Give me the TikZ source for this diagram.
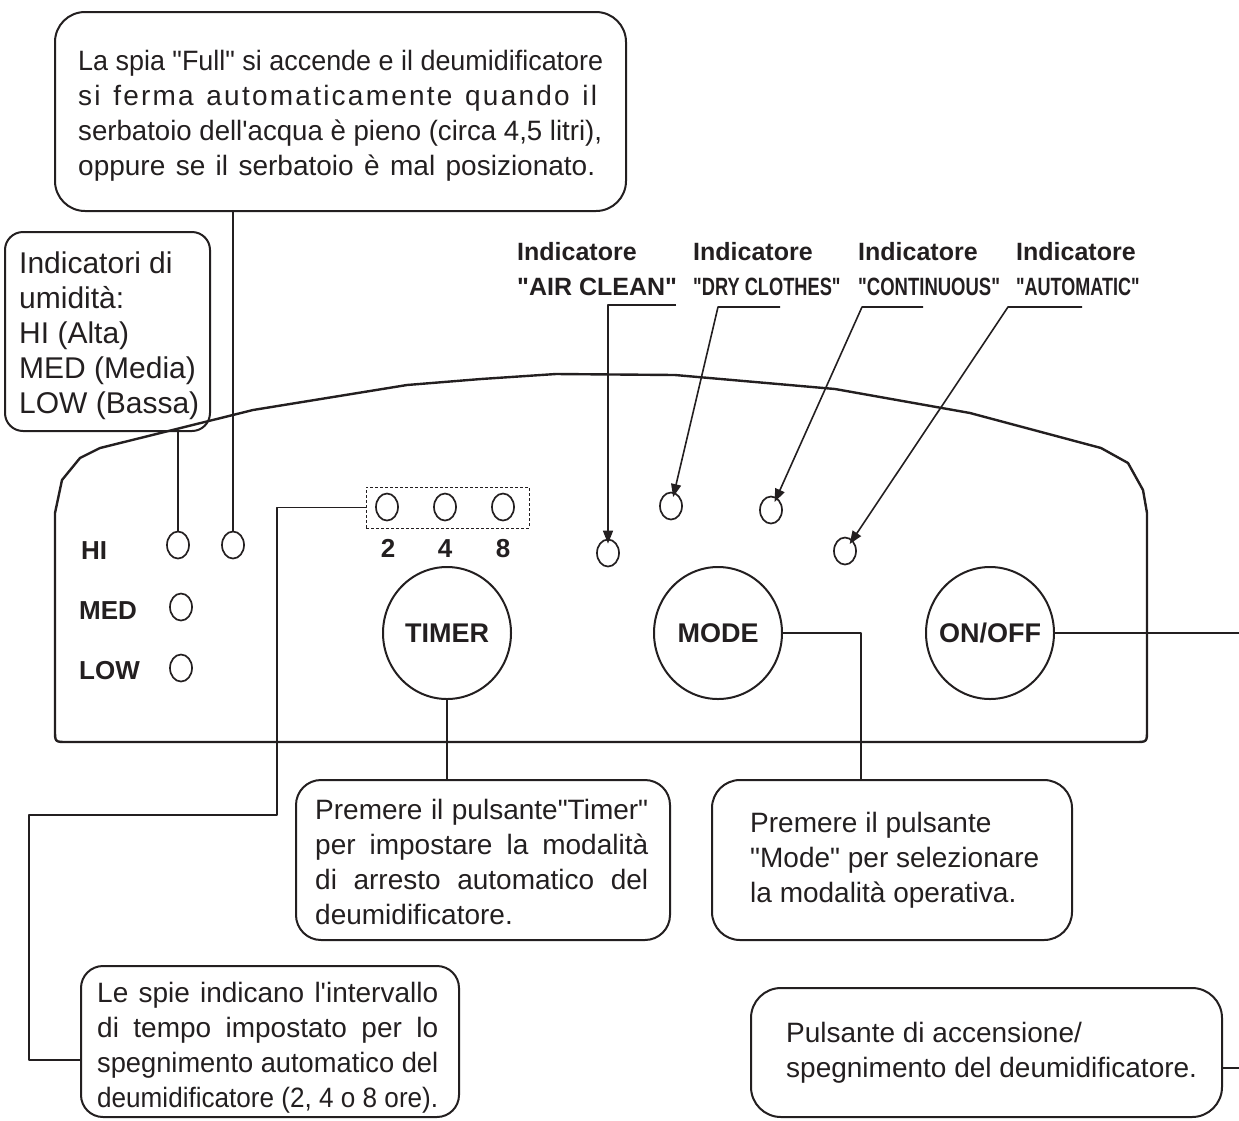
\documentclass[tikz,border=0pt]{standalone}
\usepackage{fontspec}
\newfontfamily\lib{Liberation Sans}
\newfontfamily\libspaced[LetterSpace=8]{Liberation Sans}
\usetikzlibrary{arrows.meta,shapes.geometric}
\definecolor{ink}{RGB}{35,31,32}
\newlength\jlen
\newcommand\jline[2]{\settowidth\jlen{#2}\ifdim\jlen>#1\relax\resizebox{#1}{\height}{#2}\else\makebox[#1][s]{#2}\fi}
\begin{document}
\begin{tikzpicture}[x=1pt,y=-1pt,line join=round,
  callout/.style={draw=ink,line width=2pt,rectangle,inner sep=0pt},
  txt/.style={font=\lib\fontsize{28}{35}\selectfont,text=ink,inner sep=0pt,align=left,anchor=west},
  led/.style={draw=ink,line width=1.7pt,ellipse,minimum width=22pt,minimum height=27pt,inner sep=0pt},
  btn/.style={draw=ink,line width=2pt,ellipse,minimum width=128pt,minimum height=132pt,inner sep=0pt,text=ink,font=\lib\bfseries\fontsize{27}{32}\selectfont},
  conn/.style={draw=ink,line width=1.6pt},
  arr/.style={conn,-{Triangle[length=13pt,width=10pt]},shorten >=-5pt},
  panel/.style={draw=ink,line width=2.4pt},
  boldlbl/.style={font=\lib\bfseries\fontsize{26}{30}\selectfont,text=ink,inner sep=0pt},
  ind/.style={font=\lib\bfseries\fontsize{25}{35}\selectfont,text=ink,inner sep=0pt,align=left,anchor=north west}]
\useasboundingbox (0,0) rectangle (1239,1120);

% panel outline
\draw[panel] (55,513) -- (62,480) -- (80,458) -- (100,448) -- (253,410) -- (407,385) -- (481,379) -- (556,374) -- (675,375) -- (835,389) -- (970,413) -- (1101,448) -- (1128,463) -- (1143,490) -- (1147,513) -- (1147,730) .. controls (1147,742) .. (1135,742) -- (67,742) .. controls (55,742) .. (55,730) -- cycle;

% callout boxes
\node[callout,rounded corners=30pt,minimum width=571pt,minimum height=199pt] (fullbox) at (340.5,111.5) {};
\node[callout,rounded corners=18pt,minimum width=205pt,minimum height=199pt] (humbox) at (107.5,331.5) {};
\node[callout,rounded corners=25pt,minimum width=374pt,minimum height=160pt] (timerbox) at (483,860) {};
\node[callout,rounded corners=28pt,minimum width=360pt,minimum height=160pt] (modebox) at (892,860) {};
\node[callout,rounded corners=22pt,minimum width=378pt,minimum height=151pt] (lespie) at (270,1041.5) {};
\node[callout,rounded corners=30pt,minimum width=471pt,minimum height=129pt] (pulsbox) at (986.5,1052.5) {};

% callout texts
\node[txt] (fulltxt) at (78,116) {\jline{525pt}{La spia "Full" si accende e il deumidificatore}\\
{\libspaced\jline{519pt}{si ferma automaticamente quando il}}\\
\jline{524pt}{serbatoio dell'acqua è pieno (circa 4,5 litri),}\\
\jline{517pt}{oppure se il serbatoio è mal posizionato.}};
\node[txt,font=\lib\fontsize{30}{35}\selectfont] (humtxt) at (19,336) {Indicatori di\\umidità:\\HI (Alta)\\MED (Media)\\LOW (Bassa)};
\node[txt] (timertxt) at (315,862) {\jline{333pt}{Premere il pulsante"Timer"}\\
\jline{333pt}{per impostare la modalità}\\
\jline{333pt}{di arresto automatico del}\\
deumidificatore.};
\node[txt] (modetxt) at (750,860) {Premere il pulsante\\"Mode" per selezionare\\la modalità operativa.};
\node[txt] (lespietxt) at (97,1048) {\jline{341pt}{Le spie indicano l'intervallo}\\
\jline{341pt}{di tempo impostato per lo}\\
\jline{341pt}{spegnimento automatico del}\\
\jline{341pt}{deumidificatore (2, 4 o 8 ore).}};
\node[txt] (pulstxt) at (786,1053) {Pulsante di accensione/\\spegnimento del deumidificatore.};

% indicator labels
\node[ind] (lblAir) at (517,242) {Indicatore\\"AIR CLEAN"};
\node[ind] (lblDry) at (693,242) {Indicatore\\\scalebox{0.73}[1]{"DRY CLOTHES"}};
\node[ind] (lblCont) at (858,242) {Indicatore\\\scalebox{0.74}[1]{"CONTINUOUS"}};
\node[ind] (lblAuto) at (1016,242) {Indicatore\\\scalebox{0.72}[1]{"AUTOMATIC"}};

% panel labels
\node[boldlbl,anchor=base west] (hiL) at (81,559) {HI};
\node[boldlbl,anchor=base west] (medL) at (79,619) {MED};
\node[boldlbl,anchor=base west] (lowL) at (79,679) {LOW};
\node[boldlbl,anchor=base] (d2) at (388,557) {2};
\node[boldlbl,anchor=base] (d4) at (445,557) {4};
\node[boldlbl,anchor=base] (d8) at (503,557) {8};

% LEDs
\node[led] (ledHI) at (178,545) {};
\node[led] (ledFull) at (233,545) {};
\node[led] (ledMED) at (181,607) {};
\node[led] (ledLOW) at (181,668) {};
\node[led] (t2) at (387,507) {};
\node[led] (t4) at (445,507) {};
\node[led] (t8) at (503,507) {};
\node[led] (ledAir) at (608,553) {};
\node[led] (ledDry) at (671,506) {};
\node[led] (ledCont) at (771,510) {};
\node[led] (ledAuto) at (845,551) {};
\node[draw=ink,dashed,dash pattern=on 3pt off 2pt,line width=0.8pt,minimum width=163pt,minimum height=41pt,inner sep=0pt] (tbox) at (447.5,507.5) {};

% buttons
\node[btn] (timerbtn) at (447,633) {\makebox[0pt]{TIMER}};
\node[btn] (modebtn) at (718,633) {\makebox[0pt]{MODE}};
\node[btn] (onbtn) at (990,633) {\makebox[0pt]{ON/OFF}};

% connectors
\draw[conn] (fullbox.south -| ledFull) -- (ledFull.north);
\draw[conn] (humbox.south -| ledHI) -- (ledHI.north);
\coordinate (tk1) at (277,815);
\coordinate (tk2) at (29,1060);
\draw[conn] (tbox.west) -- (tbox.west -| tk1) -- (tk1) -- (tk1 -| tk2) -- (tk2) -- (tk2 -| lespie.west);
\draw[conn] (timerbtn.south) -- (timerbtn.south |- timerbox.north);
\coordinate (mk) at (861,633);
\draw[conn] (modebtn.east) -- (mk) -- (mk |- modebox.north);
\coordinate (onEnd) at (1239,633);
\draw[conn] (onbtn.east) -- (onEnd);
\coordinate (pulsEnd) at (1239,1068);
\draw[conn] (pulsbox.east |- pulsEnd) -- (pulsEnd);

% indicator leaders
\coordinate (airA) at (676,305); \coordinate (airB) at (608,305);
\draw[arr] (airA) -- (airB) -- (ledAir);
\coordinate (dryA) at (780,307); \coordinate (dryB) at (718,307);
\draw[arr] (dryA) -- (dryB) -- (ledDry);
\coordinate (contA) at (923,307); \coordinate (contB) at (862,307);
\draw[arr] (contA) -- (contB) -- (ledCont);
\coordinate (autoA) at (1082,307); \coordinate (autoB) at (1008,307);
\draw[arr] (autoA) -- (autoB) -- (ledAuto);
\end{tikzpicture}
\end{document}
